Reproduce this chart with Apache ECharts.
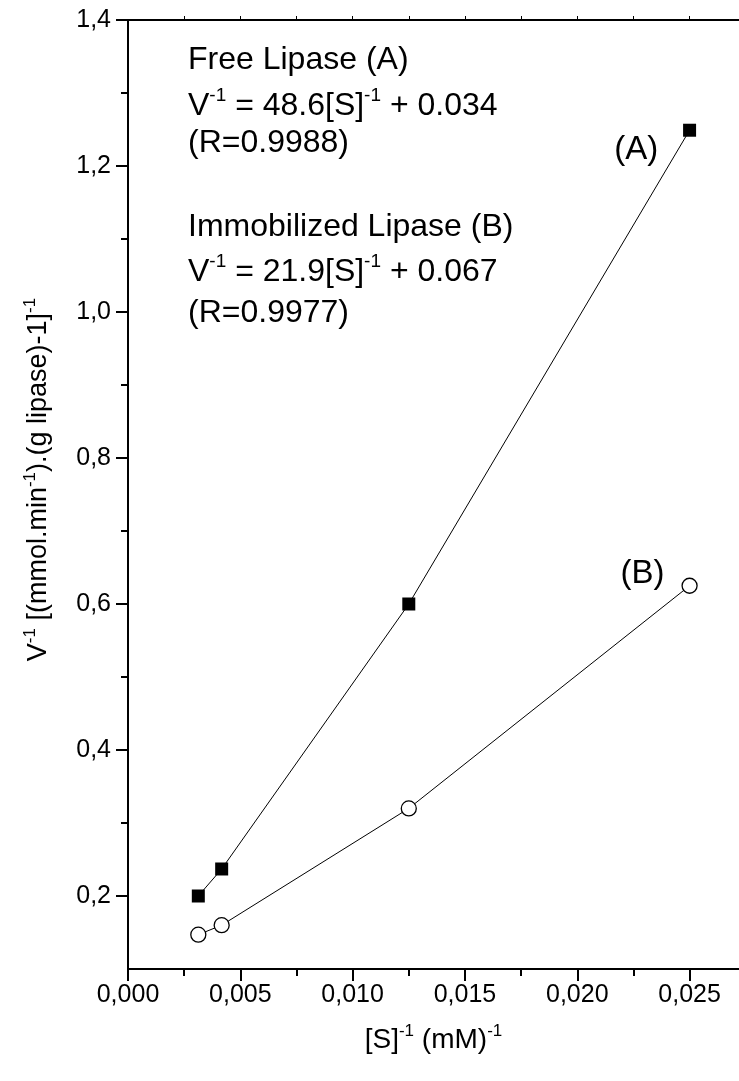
<!DOCTYPE html>
<html><head><meta charset="utf-8">
<script src="https://cdn.jsdelivr.net/npm/echarts@6/dist/echarts.min.js"></script>
<style>html,body{margin:0;padding:0;background:#fff}#c{width:739px;height:1081px}</style>
</head><body><div id="c"></div>
<script>
// Data
const xFree  = [0.00313, 0.00417, 0.0125, 0.025];
const yFree  = [0.200, 0.237, 0.600, 1.249];
const xImmob = [0.00313, 0.00417, 0.0125, 0.025];
const yImmob = [0.147, 0.160, 0.320, 0.625];
const xMajorTicks = [0, 0.005, 0.010, 0.015, 0.020, 0.025];
const xMinorTicks = [0.0025, 0.0075, 0.0125, 0.0175, 0.0225];
const xTopTicks = [0.0025, 0.005, 0.0075, 0.010, 0.0125, 0.015, 0.0175, 0.020, 0.0225, 0.025];
const yMajorTicks = [0.2, 0.4, 0.6, 0.8, 1.0, 1.2, 1.4];
const yMinorTicks = [0.3, 0.5, 0.7, 0.9, 1.1, 1.3];
const labelA = '(A)';
const labelB = '(B)';
const labelAPos = [0.02263, 1.222];
const labelBPos = [0.0229, 0.641];

const FONT = 'Liberation Sans, Arial, sans-serif';
const X_MIN = 0, X_MAX = 0.0272, Y_MIN = 0.1, Y_MAX = 1.4;
const black = '#000';

const TICK_SIZE = 25;
const XTITLE_SIZE = 28;
const YTITLE_SIZE = 27;
const SUP_SIZE = 17;

const chart = echarts.init(document.getElementById('c'), null, {renderer: 'canvas'});
const pair = (xs, ys) => xs.map((x, i) => [x, ys[i]]);
const comma = (v, d) => v.toFixed(d).replace('.', ',');

const baseX = {type: 'value', min: X_MIN, max: X_MAX, splitLine: {show: false}};
const baseY = {type: 'value', min: Y_MIN, max: Y_MAX, splitLine: {show: false}};
const annSup = {sup: {fontSize: 19, fontFamily: FONT, fill: black, verticalAlign: 'top', lineHeight: 19}};
const axSup = {sup: {fontSize: SUP_SIZE, fontFamily: FONT, color: black, verticalAlign: 'top', lineHeight: SUP_SIZE}};

const option = {
  backgroundColor: '#fff',
  animation: false,
  grid: {left: 128, right: 0, top: 20, bottom: 112, containLabel: false},
  xAxis: [
    Object.assign({}, baseX, {
      position: 'bottom',
      name: '[S]{sup|-1} (mM){sup|-1}',
      nameLocation: 'middle',
      nameGap: 54,
      nameTextStyle: {fontSize: XTITLE_SIZE, fontFamily: FONT, color: black, lineHeight: XTITLE_SIZE + 6, rich: axSup},
      axisLine: {show: true, onZero: false, lineStyle: {color: black, width: 2}},
      axisTick: {show: true, customValues: xMajorTicks, length: 12, lineStyle: {color: black, width: 2}},
      axisLabel: {customValues: xMajorTicks, formatter: v => comma(v, 3), fontSize: TICK_SIZE,
        fontFamily: FONT, color: black, margin: 14}
    }),
    Object.assign({}, baseX, {
      position: 'bottom',
      axisLine: {show: false},
      axisTick: {show: true, customValues: xMinorTicks, length: 7, lineStyle: {color: black, width: 2}},
      axisLabel: {show: false}
    }),
    Object.assign({}, baseX, {
      position: 'top',
      axisLine: {show: true, onZero: false, lineStyle: {color: black, width: 2}},
      axisTick: {show: true, customValues: xTopTicks, length: 4, lineStyle: {color: black, width: 1}},
      axisLabel: {show: false}
    })
  ],
  yAxis: [
    Object.assign({}, baseY, {
      position: 'left',
      name: 'V{sup|-1} [(mmol.min{sup|-1}).(g lipase)-1]{sup|-1}',
      nameLocation: 'middle',
      nameRotate: 90,
      nameGap: 73,
      nameTextStyle: {fontSize: YTITLE_SIZE, fontFamily: FONT, color: black, lineHeight: YTITLE_SIZE + 6,
        padding: [0, 0, 0, 30], rich: axSup},
      axisLine: {show: true, onZero: false, lineStyle: {color: black, width: 2}},
      axisTick: {show: true, customValues: yMajorTicks, length: 12, lineStyle: {color: black, width: 2}},
      axisLabel: {customValues: yMajorTicks, formatter: v => comma(v, 1), fontSize: TICK_SIZE,
        fontFamily: FONT, color: black, margin: 17}
    }),
    Object.assign({}, baseY, {
      position: 'left',
      axisLine: {show: false},
      axisTick: {show: true, customValues: yMinorTicks, length: 7, lineStyle: {color: black, width: 2}},
      axisLabel: {show: false}
    })
  ],
  series: [
    {
      name: 'Free Lipase (A)', type: 'line', xAxisIndex: 0, yAxisIndex: 0,
      data: pair(xFree, yFree),
      symbol: 'rect', symbolSize: 13,
      itemStyle: {color: black, borderColor: black, borderWidth: 0},
      lineStyle: {color: black, width: 1},
      markPoint: {
        symbol: 'circle', symbolSize: 0,
        label: {show: true, formatter: labelA, fontSize: 33, fontFamily: FONT, color: black, position: 'inside'},
        data: [{coord: labelAPos}]
      },
      z: 3
    },
    {
      name: 'Immobilized Lipase (B)', type: 'line', xAxisIndex: 0, yAxisIndex: 0,
      data: pair(xImmob, yImmob),
      symbol: 'circle', symbolSize: 15,
      itemStyle: {color: '#fff', borderColor: black, borderWidth: 1.3},
      lineStyle: {color: black, width: 1},
      markPoint: {
        symbol: 'circle', symbolSize: 0,
        label: {show: true, formatter: labelB, fontSize: 33, fontFamily: FONT, color: black, position: 'inside'},
        data: [{coord: labelBPos}]
      },
      z: 3
    }
  ],
  graphic: {
    elements: [
      {type: 'text', left: 188, top: 44, style: {text: 'Free Lipase (A)', font: '32px ' + FONT, fill: black}},
      {type: 'text', left: 188, top: 86, style: {text: 'V{sup|-1} = 48.6[S]{sup|-1} + 0.034', font: '32px ' + FONT, fill: black,
        lineHeight: 40, rich: annSup}},
      {type: 'text', left: 188, top: 127, style: {text: '(R=0.9988)', font: '32px ' + FONT, fill: black}},
      {type: 'text', left: 188, top: 211, style: {text: 'Immobilized Lipase (B)', font: '32px ' + FONT, fill: black}},
      {type: 'text', left: 188, top: 252, style: {text: 'V{sup|-1} = 21.9[S]{sup|-1} + 0.067', font: '32px ' + FONT, fill: black,
        lineHeight: 40, rich: annSup}},
      {type: 'text', left: 188, top: 297, style: {text: '(R=0.9977)', font: '32px ' + FONT, fill: black}}
    ]
  }
};
chart.setOption(option);
</script>
</body></html>
